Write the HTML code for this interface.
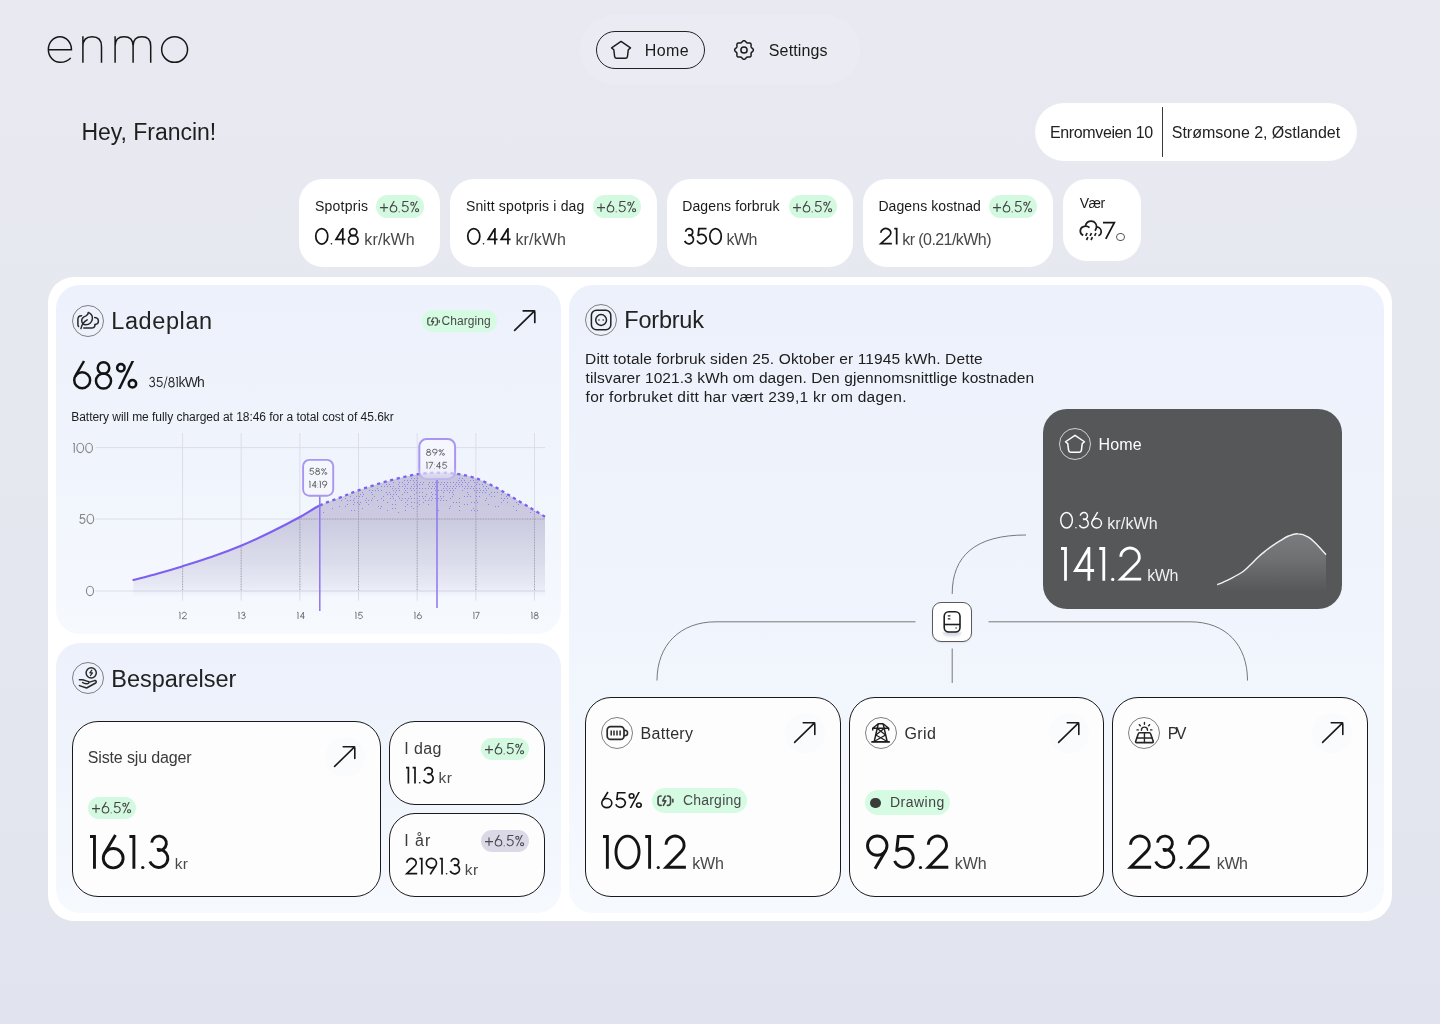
<!DOCTYPE html>
<html lang="en"><head><meta charset="utf-8"><title>enmo</title>
<style>
*{box-sizing:border-box;margin:0;padding:0}
html,body{width:1440px;height:1024px;overflow:hidden}
body{font-family:"Liberation Sans",sans-serif;background:linear-gradient(180deg,#e8e9f1 0%,#e6e8f0 40%,#e1e4ee 100%);color:#111}
#root{position:relative;width:1440px;height:1024px;overflow:hidden;will-change:transform}
.a{position:absolute}
.t{position:absolute;white-space:nowrap}
.td span{position:absolute;top:0}
.pill{position:absolute;border-radius:999px}
.badge{position:absolute;border-radius:999px;background:#d5f8e1}
.card{position:absolute;background:#fff;border-radius:24px}
.ocard{position:absolute;background:#fdfdfe;border:1px solid #1a1a1a;border-radius:26px}
.panel{position:absolute;border-radius:24px;background:linear-gradient(180deg,#ecf1fb 0%,#eef3fc 35%,#f6f9fe 100%)}
.ic{position:absolute;width:32px;height:32px;border-radius:50%;border:1px solid #808080}
svg{position:absolute;overflow:visible}
</style></head><body><div id="root">
<svg style="left:0;top:0" width="240" height="90" viewBox="0 0 240 90" fill="none" stroke="#161616" stroke-width="1.5" stroke-linecap="butt">
<path d="M48.35,49.7 H71.45 A11.55,12.8 0 0 0 59.9,36.75 A11.55,12.8 0 0 0 48.35,49.55 A11.55,12.8 0 0 0 59.9,62.35 C65,62.35 68.6,60.6 70.7,57.9"/>
<path d="M82.9,36.2 V62.8 M82.9,46.5 C82.9,39.5 86.8,36.8 92.2,36.8 C97.6,36.8 101.5,39.5 101.5,46.5 V62.8"/>
<path d="M115.1,36.2 V62.8 M115.1,46 C115.1,39.5 118.6,36.8 124.1,36.8 C129.6,36.8 133.1,39.5 133.1,46 V62.8 M133.1,46 C133.1,39.5 136.4,36.8 141.9,36.8 C147.4,36.8 150.7,39.5 150.7,46 V62.8"/>
<ellipse cx="174.6" cy="49.55" rx="12.95" ry="12.8"/>
</svg>
<div class="pill" style="left:580px;top:15px;width:280px;height:70px;background:#ebecf3"></div>
<div class="pill" style="left:596px;top:31px;width:109px;height:38px;border:1.3px solid #222"></div>
<svg style="left:0;top:0" width="900" height="90" viewBox="0 0 900 90" fill="none" stroke="#1b1b1b" stroke-width="1.5" stroke-linejoin="round" stroke-linecap="round">
<path d="M621.05,41.47 L630.50,47.90 L628.30,49.70 L627.50,56.35 Q627.25,58.30 625.35,58.30 L616.75,58.30 Q614.85,58.30 614.60,56.35 L613.80,49.70 L611.60,47.90 Z" fill="none" stroke="#1b1b1b" stroke-width="1.45" stroke-linejoin="round"/>
<circle cx="744" cy="50" r="3.1"/>
<path d="M744.00,40.65 L744.60,40.78 L745.17,41.13 L745.67,41.61 L746.11,42.13 L746.53,42.56 L746.97,42.84 L747.48,42.95 L748.08,42.94 L748.75,42.89 L749.45,42.90 L750.09,43.05 L750.61,43.39 L750.95,43.91 L751.10,44.55 L751.11,45.25 L751.06,45.92 L751.05,46.52 L751.16,47.03 L751.44,47.47 L751.87,47.89 L752.39,48.33 L752.87,48.83 L753.22,49.40 L753.35,50.00 L753.22,50.60 L752.87,51.17 L752.39,51.67 L751.87,52.11 L751.44,52.53 L751.16,52.97 L751.05,53.48 L751.06,54.07 L751.11,54.75 L751.10,55.45 L750.95,56.09 L750.61,56.61 L750.09,56.95 L749.45,57.10 L748.75,57.11 L748.08,57.06 L747.48,57.05 L746.97,57.16 L746.53,57.44 L746.11,57.87 L745.67,58.39 L745.17,58.87 L744.60,59.22 L744.00,59.35 L743.40,59.22 L742.83,58.87 L742.33,58.39 L741.89,57.87 L741.47,57.44 L741.03,57.16 L740.52,57.05 L739.92,57.06 L739.25,57.11 L738.55,57.10 L737.91,56.95 L737.39,56.61 L737.05,56.09 L736.90,55.45 L736.89,54.75 L736.94,54.08 L736.95,53.48 L736.84,52.97 L736.56,52.53 L736.13,52.11 L735.61,51.67 L735.13,51.17 L734.78,50.60 L734.65,50.00 L734.78,49.40 L735.13,48.83 L735.61,48.33 L736.13,47.89 L736.56,47.47 L736.84,47.03 L736.95,46.52 L736.94,45.92 L736.89,45.25 L736.90,44.55 L737.05,43.91 L737.39,43.39 L737.91,43.05 L738.55,42.90 L739.25,42.89 L739.92,42.94 L740.52,42.95 L741.03,42.84 L741.47,42.56 L741.89,42.13 L742.33,41.61 L742.83,41.13 L743.40,40.78 L744.00,40.65 Z"/>
</svg>
<div class="t" style="left:644.70px;top:43px;font-size:16px;line-height:16px;color:#1a1a1a;letter-spacing:0.433px;">Home</div>
<div class="t" style="left:768.80px;top:43px;font-size:16px;line-height:16px;color:#1a1a1a;letter-spacing:0.136px;">Settings</div>
<div class="t" style="left:81.45px;top:121px;font-size:23px;line-height:23px;color:#1e1e1e;letter-spacing:-0.021px;">Hey, Francin!</div>
<div class="pill" style="left:1035px;top:103px;width:322px;height:58px;background:#fff"></div>
<div class="a" style="left:1162px;top:107px;width:1px;height:50px;background:#3a3a3a"></div>
<div class="t" style="left:1050.00px;top:125px;font-size:16px;line-height:16px;color:#222;letter-spacing:-0.375px;">Enromveien 10</div>
<div class="t" style="left:1171.80px;top:125px;font-size:16px;line-height:16px;color:#222;letter-spacing:-0.031px;">Strømsone 2, Østlandet</div>
<div class="card" style="left:299px;top:179px;width:141px;height:88px"></div>
<div class="card" style="left:450px;top:179px;width:207px;height:88px"></div>
<div class="card" style="left:667px;top:179px;width:186px;height:88px"></div>
<div class="card" style="left:863px;top:179px;width:190px;height:88px"></div>
<div class="card" style="left:1063px;top:179px;width:78px;height:82px"></div>
<div class="t" style="left:314.90px;top:199px;font-size:14px;line-height:14px;color:#1a1a1a;letter-spacing:0.250px;">Spotpris</div>
<div class="t" style="left:465.90px;top:199px;font-size:14px;line-height:14px;color:#1a1a1a;letter-spacing:0.174px;">Snitt spotpris i dag</div>
<div class="t" style="left:682.20px;top:199px;font-size:14px;line-height:14px;color:#1a1a1a;letter-spacing:0.119px;">Dagens forbruk</div>
<div class="t" style="left:878.40px;top:199px;font-size:14px;line-height:14px;color:#1a1a1a;letter-spacing:0.100px;">Dagens kostnad</div>
<div class="t" style="left:1079.65px;top:196px;font-size:14px;line-height:14px;color:#1a1a1a;letter-spacing:-0.450px;">Vær</div>
<div class="badge" style="left:376px;top:195px;width:48px;height:23px;background:#d4f9e1"></div>
<svg style="left:380.10px;top:200.65px" width="41.1" height="13.3"><g transform="scale(0.1145,0.1130)"><g fill="none" stroke="#444" stroke-width="1.10" stroke-linejoin="miter" stroke-linecap="butt"><g transform="translate(0.00,0)"><path d="M0,58.5 H70 M35,22 V95" vector-effect="non-scaling-stroke"/></g><g transform="translate(84.80,0)"><circle cx="33" cy="68.6" r="28.6" vector-effect="non-scaling-stroke"/><path d="M8.2,54.3 L39.6,0" vector-effect="non-scaling-stroke"/></g><g transform="translate(185.00,0)"><path d="M63,4.4 H17.6 L12.8,49.5 M12.6,48.6 A28,28 0 1 1 7,76.5" vector-effect="non-scaling-stroke"/></g><g transform="translate(263.50,0)"><circle cx="18.6" cy="24.2" r="13.4" vector-effect="non-scaling-stroke"/><circle cx="60.2" cy="81.4" r="13.4" vector-effect="non-scaling-stroke"/></g></g><g fill="#444" stroke="none"><g transform="translate(162.80,0)"><circle cx="4.6" cy="96.2" r="4.7"/></g><g transform="translate(263.50,0)"><path d="M56.6,0 H66.4 L17.4,100 H7.6 Z"/></g></g></g></svg>
<div class="badge" style="left:593px;top:195px;width:48px;height:23px;background:#d4f9e1"></div>
<svg style="left:597.10px;top:200.65px" width="41.1" height="13.3"><g transform="scale(0.1145,0.1130)"><g fill="none" stroke="#444" stroke-width="1.10" stroke-linejoin="miter" stroke-linecap="butt"><g transform="translate(0.00,0)"><path d="M0,58.5 H70 M35,22 V95" vector-effect="non-scaling-stroke"/></g><g transform="translate(84.80,0)"><circle cx="33" cy="68.6" r="28.6" vector-effect="non-scaling-stroke"/><path d="M8.2,54.3 L39.6,0" vector-effect="non-scaling-stroke"/></g><g transform="translate(185.00,0)"><path d="M63,4.4 H17.6 L12.8,49.5 M12.6,48.6 A28,28 0 1 1 7,76.5" vector-effect="non-scaling-stroke"/></g><g transform="translate(263.50,0)"><circle cx="18.6" cy="24.2" r="13.4" vector-effect="non-scaling-stroke"/><circle cx="60.2" cy="81.4" r="13.4" vector-effect="non-scaling-stroke"/></g></g><g fill="#444" stroke="none"><g transform="translate(162.80,0)"><circle cx="4.6" cy="96.2" r="4.7"/></g><g transform="translate(263.50,0)"><path d="M56.6,0 H66.4 L17.4,100 H7.6 Z"/></g></g></g></svg>
<div class="badge" style="left:789px;top:195px;width:48px;height:23px;background:#d4f9e1"></div>
<svg style="left:793.10px;top:200.65px" width="41.1" height="13.3"><g transform="scale(0.1145,0.1130)"><g fill="none" stroke="#444" stroke-width="1.10" stroke-linejoin="miter" stroke-linecap="butt"><g transform="translate(0.00,0)"><path d="M0,58.5 H70 M35,22 V95" vector-effect="non-scaling-stroke"/></g><g transform="translate(84.80,0)"><circle cx="33" cy="68.6" r="28.6" vector-effect="non-scaling-stroke"/><path d="M8.2,54.3 L39.6,0" vector-effect="non-scaling-stroke"/></g><g transform="translate(185.00,0)"><path d="M63,4.4 H17.6 L12.8,49.5 M12.6,48.6 A28,28 0 1 1 7,76.5" vector-effect="non-scaling-stroke"/></g><g transform="translate(263.50,0)"><circle cx="18.6" cy="24.2" r="13.4" vector-effect="non-scaling-stroke"/><circle cx="60.2" cy="81.4" r="13.4" vector-effect="non-scaling-stroke"/></g></g><g fill="#444" stroke="none"><g transform="translate(162.80,0)"><circle cx="4.6" cy="96.2" r="4.7"/></g><g transform="translate(263.50,0)"><path d="M56.6,0 H66.4 L17.4,100 H7.6 Z"/></g></g></g></svg>
<div class="badge" style="left:989px;top:195px;width:48px;height:23px;background:#d4f9e1"></div>
<svg style="left:993.10px;top:200.65px" width="41.1" height="13.3"><g transform="scale(0.1145,0.1130)"><g fill="none" stroke="#444" stroke-width="1.10" stroke-linejoin="miter" stroke-linecap="butt"><g transform="translate(0.00,0)"><path d="M0,58.5 H70 M35,22 V95" vector-effect="non-scaling-stroke"/></g><g transform="translate(84.80,0)"><circle cx="33" cy="68.6" r="28.6" vector-effect="non-scaling-stroke"/><path d="M8.2,54.3 L39.6,0" vector-effect="non-scaling-stroke"/></g><g transform="translate(185.00,0)"><path d="M63,4.4 H17.6 L12.8,49.5 M12.6,48.6 A28,28 0 1 1 7,76.5" vector-effect="non-scaling-stroke"/></g><g transform="translate(263.50,0)"><circle cx="18.6" cy="24.2" r="13.4" vector-effect="non-scaling-stroke"/><circle cx="60.2" cy="81.4" r="13.4" vector-effect="non-scaling-stroke"/></g></g><g fill="#444" stroke="none"><g transform="translate(162.80,0)"><circle cx="4.6" cy="96.2" r="4.7"/></g><g transform="translate(263.50,0)"><path d="M56.6,0 H66.4 L17.4,100 H7.6 Z"/></g></g></g></svg>
<svg style="left:315.40px;top:228.30px" width="45.8" height="18.4"><g transform="scale(0.1756,0.1640)"><g fill="none" stroke="#151515" stroke-width="1.75" stroke-linejoin="miter" stroke-linecap="butt"><g transform="translate(0.00,0)"><ellipse cx="38.5" cy="50.5" rx="34.1" ry="47.3" vector-effect="non-scaling-stroke"/></g><g transform="translate(111.20,0)"><path d="M47,100 V0 M47,3 L8.5,69.7 H62" vector-effect="non-scaling-stroke"/></g><g transform="translate(186.20,0)"><circle cx="31.6" cy="25" r="20.8" vector-effect="non-scaling-stroke"/><circle cx="31.6" cy="71.4" r="27.1" vector-effect="non-scaling-stroke"/></g></g><g fill="#151515" stroke="none"><g transform="translate(89.00,0)"><circle cx="4.6" cy="96.2" r="4.7"/></g></g></g></svg>
<div class="t" style="left:364.25px;top:232px;font-size:16px;line-height:16px;color:#484848;letter-spacing:0.150px;">kr/kWh</div>
<svg style="left:466.60px;top:228.30px" width="45.6" height="18.4"><g transform="scale(0.1764,0.1640)"><g fill="none" stroke="#151515" stroke-width="1.75" stroke-linejoin="miter" stroke-linecap="butt"><g transform="translate(0.00,0)"><ellipse cx="38.5" cy="50.5" rx="34.1" ry="47.3" vector-effect="non-scaling-stroke"/></g><g transform="translate(111.20,0)"><path d="M47,100 V0 M47,3 L8.5,69.7 H62" vector-effect="non-scaling-stroke"/></g><g transform="translate(185.20,0)"><path d="M47,100 V0 M47,3 L8.5,69.7 H62" vector-effect="non-scaling-stroke"/></g></g><g fill="#151515" stroke="none"><g transform="translate(89.00,0)"><circle cx="4.6" cy="96.2" r="4.7"/></g></g></g></svg>
<div class="t" style="left:515.45px;top:232px;font-size:16px;line-height:16px;color:#484848;letter-spacing:0.150px;">kr/kWh</div>
<svg style="left:683.50px;top:228.30px" width="40.0" height="18.4"><g transform="scale(0.1677,0.1640)"><g fill="none" stroke="#151515" stroke-width="1.75" stroke-linejoin="miter" stroke-linecap="butt"><g transform="translate(0.00,0)"><path d="M9.7,22.65 A21.2,21.2 0 1 1 27.1,45.4 M24.5,43 A26.8,26.8 0 1 1 4.4,78.6" vector-effect="non-scaling-stroke"/></g><g transform="translate(71.40,0)"><path d="M63,4.4 H17.6 L12.8,49.5 M12.6,48.6 A28,28 0 1 1 7,76.5" vector-effect="non-scaling-stroke"/></g><g transform="translate(149.60,0)"><ellipse cx="38.5" cy="50.5" rx="34.1" ry="47.3" vector-effect="non-scaling-stroke"/></g></g></g></svg>
<div class="t" style="left:726.45px;top:232px;font-size:16px;line-height:16px;color:#484848;letter-spacing:-0.475px;">kWh</div>
<svg style="left:880.00px;top:228.30px" width="19.5" height="18.4"><g transform="scale(0.1880,0.1640)"><g fill="none" stroke="#151515" stroke-width="1.75" stroke-linejoin="miter" stroke-linecap="butt"><g transform="translate(0.00,0)"><path d="M4.4,29 A26.6,26.6 0 1 1 49.9,48.4 L4.4,95.6 H63" vector-effect="non-scaling-stroke"/></g><g transform="translate(75.80,0)"><path d="M0,4.4 H12.9 V100" vector-effect="non-scaling-stroke"/></g></g></g></svg>
<div class="t" style="left:902.25px;top:232px;font-size:16px;line-height:16px;color:#484848;letter-spacing:-0.567px;">kr (0.21/kWh)</div>
<svg style="left:1074px;top:214px" width="40" height="32" viewBox="0 0 40 32" fill="none" stroke="#1f1f1f" stroke-width="1.75" stroke-linecap="butt" stroke-linejoin="round">
<path d="M9.2,21.4 C5.4,19.6 5.2,14.2 9.4,12.6 C11.6,11.7 14,12.3 15.5,13.7"/>
<path d="M11.4,11.9 C12.2,8.6 14.8,7.1 17.3,7.1 C20.8,7.1 23.2,10.4 22.4,13.8 C22.1,15 21.6,15.9 21,16.8"/>
<path d="M22.9,12.9 C25.6,13.3 27.5,15.6 27.2,18.4 C27,20 26,21.2 24.4,21.8"/>
<path d="M13.1,19 L11.7,21.9 M17.5,19 L16.1,21.9 M22,19 L20.6,21.9 M13.9,23.2 L12.5,26 M18.4,23.2 L17,26" stroke-width="1.7"/>
</svg>
<svg style="left:1103.20px;top:222.10px" width="14.2" height="18.8"><g transform="scale(0.2140,0.1680)"><g fill="none" stroke="#151515" stroke-width="1.75" stroke-linejoin="miter" stroke-linecap="butt"><g transform="translate(0.00,0)"><path d="M0,4.4 H53 L13,100" vector-effect="non-scaling-stroke"/></g></g></g></svg>
<div class="a" style="left:1116px;top:232.5px;width:8.9px;height:8.9px;border-radius:50%;border:1.25px solid #555"></div>
<div class="a" style="left:48px;top:277px;width:1344px;height:644px;background:#fff;border-radius:26px"></div>
<div class="panel" style="left:56px;top:285px;width:505px;height:349px"></div>
<div class="ic" style="left:72px;top:304.7px"></div>
<svg style="left:68px;top:301px" width="40" height="40" viewBox="0 0 40 40" fill="none" stroke="#2a2a2a" stroke-width="1.5" stroke-linecap="round" stroke-linejoin="round">
<path d="M13.6,14.7 Q9.9,14.7 9.9,18.2 V23.2 Q9.9,24.8 10.6,25.5"/>
<path d="M20.3,11.4 C22.6,12.4 24.6,14.8 24.4,17.6 C24.2,21 21.4,23.7 17.8,23.8 C15.2,23.9 13.6,21.8 13.7,19.4 C13.8,16.8 16.2,15.6 18,14.9 C19.4,14.3 20.2,13.2 20.3,11.4 Z"/>
<path d="M19.2,18.8 C16.4,20.2 13.8,23.4 12.9,27.6"/>
<path d="M15.8,27 H23.4 Q27,27 27,23.4"/>
<path d="M26.7,16.5 C31.6,16.9 31.6,23.2 27,23.5"/>
</svg>
<div class="t" style="left:111.30px;top:310px;font-size:23.5px;line-height:23.5px;color:#222;letter-spacing:0.586px;">Ladeplan</div>
<div class="badge" style="left:422px;top:309.8px;width:75px;height:22.4px;background:#d6fbe3"></div>
<svg style="left:427px;top:316.6px" width="13.0" height="9.0" viewBox="0 0 13 9" fill="none" stroke="#4c4c4c" stroke-width="1.25" stroke-linecap="round" stroke-linejoin="round"><path d="M3.2,0.8 H2.6 Q0.8,0.8 0.8,2.6 V6.2 Q0.8,8 2.6,8 H3.2 M8,0.8 H8.6 Q10.4,0.8 10.4,2.6 V6.2 Q10.4,8 8.6,8 H8 M12.2,3.4 V5.4 M6.3,0.9 L4.4,4.5 H6.8 L4.9,8"/></svg>
<div class="t" style="left:441.60px;top:315px;font-size:12px;line-height:12px;color:#4a4a4a;letter-spacing:0.064px;">Charging</div>
<svg style="left:514px;top:310.2px" width="22" height="22" viewBox="0 0 22 22" fill="none" stroke="#1a1a1a" stroke-width="1.7" stroke-linecap="round" stroke-linejoin="round"><path d="M0.6,20.4 L20.6,0.9 M9.2,0.8 L19.6,0.8 Q20.8,0.8 20.8,2 L20.8,12.4"/></svg>
<svg style="left:72.90px;top:360.60px" width="66.4" height="30.0"><g transform="scale(0.2782,0.2800)"><g fill="none" stroke="#141414" stroke-width="2.50" stroke-linejoin="miter" stroke-linecap="butt"><g transform="translate(0.00,0)"><circle cx="33" cy="68.6" r="28.6" vector-effect="non-scaling-stroke"/><path d="M8.2,54.3 L39.6,0" vector-effect="non-scaling-stroke"/></g><g transform="translate(78.00,0)"><circle cx="31.6" cy="25" r="20.8" vector-effect="non-scaling-stroke"/><circle cx="31.6" cy="71.4" r="27.1" vector-effect="non-scaling-stroke"/></g><g transform="translate(153.50,0)"><circle cx="18.6" cy="24.2" r="13.4" vector-effect="non-scaling-stroke"/><circle cx="60.2" cy="81.4" r="13.4" vector-effect="non-scaling-stroke"/></g></g><g fill="#141414" stroke="none"><g transform="translate(153.50,0)"><path d="M56.6,0 H66.4 L17.4,100 H7.6 Z"/></g></g></g></svg>
<svg style="left:148.90px;top:377.20px" width="30.7" height="12.0"><g transform="scale(0.0997,0.1000)"><g fill="none" stroke="#2a2a2a" stroke-width="1.05" stroke-linejoin="miter" stroke-linecap="butt"><g transform="translate(0.00,0)"><path d="M9.7,22.65 A21.2,21.2 0 1 1 27.1,45.4 M24.5,43 A26.8,26.8 0 1 1 4.4,78.6" vector-effect="non-scaling-stroke"/></g><g transform="translate(71.40,0)"><path d="M63,4.4 H17.6 L12.8,49.5 M12.6,48.6 A28,28 0 1 1 7,76.5" vector-effect="non-scaling-stroke"/></g><g transform="translate(193.60,0)"><circle cx="31.6" cy="25" r="20.8" vector-effect="non-scaling-stroke"/><circle cx="31.6" cy="71.4" r="27.1" vector-effect="non-scaling-stroke"/></g><g transform="translate(270.60,0)"><path d="M0,4.4 H12.9 V100" vector-effect="non-scaling-stroke"/></g></g><g fill="#2a2a2a" stroke="none"><g transform="translate(145.60,0)"><path d="M31,-4 H40 L9,112 H0 Z"/></g></g></g></svg>
<div class="t" style="left:178.50px;top:375px;font-size:14px;line-height:14px;color:#2a2a2a;letter-spacing:-0.800px;">kWh</div>
<div class="t" style="left:71.25px;top:411px;font-size:12px;line-height:12px;color:#1c1c1c;letter-spacing:-0.036px;">Battery will me fully charged at 18:46 for a total cost of 45.6kr</div>
<svg style="left:0;top:0" width="600" height="640" viewBox="0 0 600 640" fill="none"><defs>
<linearGradient id="ga" x1="0" y1="470" x2="0" y2="598" gradientUnits="userSpaceOnUse"><stop offset="0" stop-color="#655a98" stop-opacity="0.31"/><stop offset="0.4" stop-color="#6e639c" stop-opacity="0.29"/><stop offset="0.7" stop-color="#8279a8" stop-opacity="0.22"/><stop offset="0.9" stop-color="#9088b4" stop-opacity="0.13"/><stop offset="1" stop-color="#9a90c0" stop-opacity="0"/></linearGradient>
<pattern id="dots" x="0" y="0" width="6.6" height="5.6" patternUnits="userSpaceOnUse"><circle cx="1.2" cy="1.2" r="0.62" fill="#8d72f7"/><circle cx="4.5" cy="4" r="0.62" fill="#8d72f7"/></pattern>
<filter id="bl" x="-10%" y="-50%" width="120%" height="200%"><feGaussianBlur stdDeviation="7"/></filter>
<mask id="mk" maskUnits="userSpaceOnUse" x="0" y="0" width="600" height="640"><path d="M319.7,505.5 C326.4,502.3 333.6,500.1 340.0,497.6 C346.4,495.1 350.4,493.2 358.4,490.4 C366.4,487.6 378.1,483.7 388.0,481.0 C397.9,478.3 409.3,475.6 417.5,474.2 C425.7,472.8 430.6,472.7 437.0,472.6 C443.4,472.5 449.5,472.7 456.0,473.6 C462.5,474.6 469.5,476.1 476.0,478.3 C482.5,480.5 489.3,484.1 495.0,487.0 C500.7,489.9 504.8,492.8 510.3,496.0 C515.8,499.2 522.2,503.1 528.0,506.5 C533.8,509.9 542.2,515.0 545.0,516.7" stroke="#fff" stroke-width="34" fill="none" filter="url(#bl)"/></mask>
<clipPath id="ca"><path d="M133.4,580.0 C137.5,578.9 149.9,575.8 158.0,573.5 C166.1,571.2 173.0,569.2 182.0,566.4 C191.0,563.6 202.2,560.2 212.0,556.8 C221.8,553.4 231.2,549.9 241.0,545.8 C250.8,541.7 261.2,536.8 271.0,532.0 C280.8,527.2 291.9,521.4 300.0,517.0 C308.1,512.6 313.0,508.7 319.7,505.5 C326.4,502.3 333.6,500.1 340.0,497.6 C346.4,495.1 350.4,493.2 358.4,490.4 C366.4,487.6 378.1,483.7 388.0,481.0 C397.9,478.3 409.3,475.6 417.5,474.2 C425.7,472.8 430.6,472.7 437.0,472.6 C443.4,472.5 449.5,472.7 456.0,473.6 C462.5,474.6 469.5,476.1 476.0,478.3 C482.5,480.5 489.3,484.1 495.0,487.0 C500.7,489.9 504.8,492.8 510.3,496.0 C515.8,499.2 522.2,503.1 528.0,506.5 C533.8,509.9 542.2,515.0 545.0,516.7 L545,598 L133.4,598 Z"/></clipPath>
<linearGradient id="gb" x1="0" y1="0" x2="0" y2="1"><stop offset="0" stop-color="#f6f7fe" stop-opacity="1"/><stop offset="0.68" stop-color="#f4f4fd" stop-opacity="1"/><stop offset="1" stop-color="#e9e6f6" stop-opacity="0.35"/></linearGradient>
<linearGradient id="gs" x1="0" y1="439" x2="0" y2="480" gradientUnits="userSpaceOnUse"><stop offset="0" stop-color="#a896f0"/><stop offset="0.7" stop-color="#a896f0"/><stop offset="1" stop-color="#b8aaf0" stop-opacity="0.55"/></linearGradient>
</defs><path d="M95.5,447.6 H545 M95.5,519 H545 M95.5,591 H545 M182.6,433 V600.6 M241.2,433 V600.6 M299.9,433 V600.6 M358.5,433 V600.6 M417.2,433 V600.6 M475.9,433 V600.6 M534.5,433 V600.6" stroke="#dcdde8" stroke-width="1"/><path d="M133.4,580.0 C137.5,578.9 149.9,575.8 158.0,573.5 C166.1,571.2 173.0,569.2 182.0,566.4 C191.0,563.6 202.2,560.2 212.0,556.8 C221.8,553.4 231.2,549.9 241.0,545.8 C250.8,541.7 261.2,536.8 271.0,532.0 C280.8,527.2 291.9,521.4 300.0,517.0 C308.1,512.6 313.0,508.7 319.7,505.5 C326.4,502.3 333.6,500.1 340.0,497.6 C346.4,495.1 350.4,493.2 358.4,490.4 C366.4,487.6 378.1,483.7 388.0,481.0 C397.9,478.3 409.3,475.6 417.5,474.2 C425.7,472.8 430.6,472.7 437.0,472.6 C443.4,472.5 449.5,472.7 456.0,473.6 C462.5,474.6 469.5,476.1 476.0,478.3 C482.5,480.5 489.3,484.1 495.0,487.0 C500.7,489.9 504.8,492.8 510.3,496.0 C515.8,499.2 522.2,503.1 528.0,506.5 C533.8,509.9 542.2,515.0 545.0,516.7 L545,598 L133.4,598 Z" fill="url(#ga)"/><g clip-path="url(#ca)"><path d="M95.5,519 H545 M182.6,433 V590 M241.2,433 V590 M299.9,433 V590 M358.5,433 V590 M417.2,433 V590 M475.9,433 V590 M534.5,433 V590" stroke="#a09cb0" stroke-width="1" stroke-dasharray="1 1.6"/><path d="M133.4,591 H545" stroke="#dedcf0" stroke-width="1.2"/></g><path d="M411,478.5h1M414,478.5h1M417,478.5h1M459,478.5h1M462,478.5h1M404,480.5h1M407,480.5h1M410,480.5h1M413,480.5h1M416,480.5h1M458,480.5h1M461,480.5h1M464,480.5h1M470,480.5h1M473,480.5h1M393,482.5h1M399,482.5h1M402,482.5h1M408,482.5h1M414,482.5h1M417,482.5h1M420,482.5h1M423,482.5h1M429,482.5h1M432,482.5h1M435,482.5h1M438,482.5h1M441,482.5h1M444,482.5h1M447,482.5h1M450,482.5h1M453,482.5h1M456,482.5h1M459,482.5h1M462,482.5h1M465,482.5h1M468,482.5h1M474,482.5h1M477,482.5h1M386,484.5h1M389,484.5h1M398,484.5h1M404,484.5h1M407,484.5h1M413,484.5h1M416,484.5h1M419,484.5h1M422,484.5h1M428,484.5h1M434,484.5h1M440,484.5h1M443,484.5h1M446,484.5h1M455,484.5h1M458,484.5h1M461,484.5h1M467,484.5h1M476,484.5h1M479,484.5h1M482,484.5h1M381,486.5h1M384,486.5h1M387,486.5h1M390,486.5h1M393,486.5h1M399,486.5h1M402,486.5h1M405,486.5h1M411,486.5h1M414,486.5h1M417,486.5h1M429,486.5h1M432,486.5h1M435,486.5h1M444,486.5h1M447,486.5h1M450,486.5h1M453,486.5h1M456,486.5h1M459,486.5h1M462,486.5h1M465,486.5h1M468,486.5h1M471,486.5h1M474,486.5h1M483,486.5h1M486,486.5h1M377,488.5h1M392,488.5h1M395,488.5h1M398,488.5h1M404,488.5h1M407,488.5h1M410,488.5h1M413,488.5h1M416,488.5h1M419,488.5h1M422,488.5h1M425,488.5h1M428,488.5h1M431,488.5h1M434,488.5h1M443,488.5h1M446,488.5h1M449,488.5h1M452,488.5h1M455,488.5h1M464,488.5h1M467,488.5h1M470,488.5h1M473,488.5h1M476,488.5h1M479,488.5h1M485,488.5h1M488,488.5h1M369,490.5h1M372,490.5h1M375,490.5h1M378,490.5h1M381,490.5h1M393,490.5h1M396,490.5h1M399,490.5h1M405,490.5h1M411,490.5h1M414,490.5h1M435,490.5h1M438,490.5h1M441,490.5h1M444,490.5h1M447,490.5h1M450,490.5h1M453,490.5h1M462,490.5h1M474,490.5h1M477,490.5h1M480,490.5h1M483,490.5h1M486,490.5h1M362,492.5h1M371,492.5h1M386,492.5h1M389,492.5h1M395,492.5h1M404,492.5h1M407,492.5h1M416,492.5h1M419,492.5h1M422,492.5h1M431,492.5h1M443,492.5h1M449,492.5h1M452,492.5h1M467,492.5h1M476,492.5h1M479,492.5h1M482,492.5h1M485,492.5h1M491,492.5h1M494,492.5h1M497,492.5h1M360,494.5h1M363,494.5h1M372,494.5h1M387,494.5h1M390,494.5h1M393,494.5h1M396,494.5h1M402,494.5h1M414,494.5h1M426,494.5h1M432,494.5h1M435,494.5h1M453,494.5h1M468,494.5h1M489,494.5h1M501,494.5h1M350,496.5h1M356,496.5h1M359,496.5h1M362,496.5h1M374,496.5h1M383,496.5h1M392,496.5h1M398,496.5h1M410,496.5h1M419,496.5h1M422,496.5h1M425,496.5h1M431,496.5h1M440,496.5h1M443,496.5h1M452,496.5h1M464,496.5h1M467,496.5h1M470,496.5h1M476,496.5h1M479,496.5h1M491,496.5h1M494,496.5h1M506,496.5h1M345,498.5h1M354,498.5h1M366,498.5h1M372,498.5h1M381,498.5h1M390,498.5h1M393,498.5h1M399,498.5h1M402,498.5h1M405,498.5h1M408,498.5h1M411,498.5h1M414,498.5h1M417,498.5h1M423,498.5h1M429,498.5h1M432,498.5h1M435,498.5h1M438,498.5h1M441,498.5h1M450,498.5h1M459,498.5h1M486,498.5h1M501,498.5h1M504,498.5h1M507,498.5h1M341,500.5h1M347,500.5h1M350,500.5h1M353,500.5h1M365,500.5h1M368,500.5h1M371,500.5h1M377,500.5h1M383,500.5h1M395,500.5h1M401,500.5h1M407,500.5h1M419,500.5h1M425,500.5h1M428,500.5h1M431,500.5h1M437,500.5h1M440,500.5h1M443,500.5h1M446,500.5h1M476,500.5h1M485,500.5h1M503,500.5h1M354,502.5h1M357,502.5h1M360,502.5h1M366,502.5h1M387,502.5h1M405,502.5h1M411,502.5h1M414,502.5h1M417,502.5h1M423,502.5h1M453,502.5h1M456,502.5h1M459,502.5h1M471,502.5h1M474,502.5h1M477,502.5h1M501,502.5h1M507,502.5h1M516,502.5h1M347,504.5h1M353,504.5h1M359,504.5h1M368,504.5h1M392,504.5h1M395,504.5h1M407,504.5h1M419,504.5h1M428,504.5h1M464,504.5h1M467,504.5h1M488,504.5h1M518,504.5h1M339,506.5h1M345,506.5h1M378,506.5h1M381,506.5h1M405,506.5h1M411,506.5h1M417,506.5h1M450,506.5h1M459,506.5h1M495,506.5h1M498,506.5h1M513,506.5h1M332,508.5h1M362,508.5h1M380,508.5h1M392,508.5h1M395,508.5h1M413,508.5h1M449,508.5h1M473,508.5h1M351,510.5h1M354,510.5h1M387,510.5h1M405,510.5h1M438,510.5h1M459,510.5h1M471,510.5h1M474,510.5h1M477,510.5h1M516,510.5h1M323,512.5h1M398,512.5h1M530,512.5h1" stroke="#957ff6" stroke-width="1" stroke-linecap="butt"/><path d="M133.4,580.0 C137.5,578.9 149.9,575.8 158.0,573.5 C166.1,571.2 173.0,569.2 182.0,566.4 C191.0,563.6 202.2,560.2 212.0,556.8 C221.8,553.4 231.2,549.9 241.0,545.8 C250.8,541.7 261.2,536.8 271.0,532.0 C280.8,527.2 291.9,521.4 300.0,517.0 C308.1,512.6 313.0,508.7 319.7,505.5" stroke="#7d5ff2" stroke-width="2.1" stroke-linecap="round"/><path d="M319.7,505.5 C326.4,502.3 333.6,500.1 340.0,497.6 C346.4,495.1 350.4,493.2 358.4,490.4 C366.4,487.6 378.1,483.7 388.0,481.0 C397.9,478.3 409.3,475.6 417.5,474.2 C425.7,472.8 430.6,472.7 437.0,472.6 C443.4,472.5 449.5,472.7 456.0,473.6 C462.5,474.6 469.5,476.1 476.0,478.3 C482.5,480.5 489.3,484.1 495.0,487.0 C500.7,489.9 504.8,492.8 510.3,496.0 C515.8,499.2 522.2,503.1 528.0,506.5 C533.8,509.9 542.2,515.0 545.0,516.7" stroke="#7d5ff2" stroke-width="2.3" stroke-dasharray="3.2 3.6" stroke-linecap="butt"/><path d="M319.8,496 V611" stroke="#8e74f3" stroke-width="1.5"/><path d="M437,480 V608" stroke="#8e74f3" stroke-width="1.5"/><rect x="303.1" y="459.9" width="30.1" height="35.8" rx="6.2" fill="#f5f7fe" stroke="#a896f0" stroke-width="1.9"/><rect x="419.3" y="439.1" width="35.8" height="39.9" rx="7.2" fill="url(#gb)" stroke="url(#gs)" stroke-width="2"/></svg>
<svg style="left:308.70px;top:468.00px" width="20.2" height="8.7"><g transform="scale(0.0785,0.0670)"><g fill="none" stroke="#555" stroke-width="0.85" stroke-linejoin="miter" stroke-linecap="butt"><g transform="translate(0.00,0)"><path d="M63,4.4 H17.6 L12.8,49.5 M12.6,48.6 A28,28 0 1 1 7,76.5" vector-effect="non-scaling-stroke"/></g><g transform="translate(78.20,0)"><circle cx="31.6" cy="25" r="20.8" vector-effect="non-scaling-stroke"/><circle cx="31.6" cy="71.4" r="27.1" vector-effect="non-scaling-stroke"/></g><g transform="translate(153.70,0)"><circle cx="18.6" cy="24.2" r="13.4" vector-effect="non-scaling-stroke"/><circle cx="60.2" cy="81.4" r="13.4" vector-effect="non-scaling-stroke"/></g></g><g fill="#555" stroke="none"><g transform="translate(153.70,0)"><path d="M56.6,0 H66.4 L17.4,100 H7.6 Z"/></g></g></g></svg>
<svg style="left:308.70px;top:481.10px" width="20.2" height="8.9"><g transform="scale(0.0782,0.0690)"><g fill="none" stroke="#555" stroke-width="0.85" stroke-linejoin="miter" stroke-linecap="butt"><g transform="translate(0.00,0)"><path d="M0,4.4 H12.9 V100" vector-effect="non-scaling-stroke"/></g><g transform="translate(32.90,0)"><path d="M47,100 V0 M47,3 L8.5,69.7 H62" vector-effect="non-scaling-stroke"/></g><g transform="translate(132.90,0)"><path d="M0,4.4 H12.9 V100" vector-effect="non-scaling-stroke"/></g><g transform="translate(166.80,0)"><circle cx="33" cy="31.4" r="28.6" vector-effect="non-scaling-stroke"/><path d="M57.8,45.7 L26.4,100" vector-effect="non-scaling-stroke"/></g></g><g fill="#555" stroke="none"><g transform="translate(107.90,0)"><circle cx="4.6" cy="96.2" r="4.7"/><circle cx="4.6" cy="42" r="4.7"/></g></g></g></svg>
<svg style="left:426.10px;top:449.10px" width="20.9" height="8.6"><g transform="scale(0.0816,0.0660)"><g fill="none" stroke="#555" stroke-width="0.85" stroke-linejoin="miter" stroke-linecap="butt"><g transform="translate(0.00,0)"><circle cx="31.6" cy="25" r="20.8" vector-effect="non-scaling-stroke"/><circle cx="31.6" cy="71.4" r="27.1" vector-effect="non-scaling-stroke"/></g><g transform="translate(75.20,0)"><circle cx="33" cy="31.4" r="28.6" vector-effect="non-scaling-stroke"/><path d="M57.8,45.7 L26.4,100" vector-effect="non-scaling-stroke"/></g><g transform="translate(153.50,0)"><circle cx="18.6" cy="24.2" r="13.4" vector-effect="non-scaling-stroke"/><circle cx="60.2" cy="81.4" r="13.4" vector-effect="non-scaling-stroke"/></g></g><g fill="#555" stroke="none"><g transform="translate(153.50,0)"><path d="M56.6,0 H66.4 L17.4,100 H7.6 Z"/></g></g></g></svg>
<svg style="left:426.10px;top:462.20px" width="23.1" height="8.7"><g transform="scale(0.0808,0.0670)"><g fill="none" stroke="#555" stroke-width="0.85" stroke-linejoin="miter" stroke-linecap="butt"><g transform="translate(0.00,0)"><path d="M0,4.4 H12.9 V100" vector-effect="non-scaling-stroke"/></g><g transform="translate(31.90,0)"><path d="M0,4.4 H53 L13,100" vector-effect="non-scaling-stroke"/></g><g transform="translate(121.10,0)"><path d="M47,100 V0 M47,3 L8.5,69.7 H62" vector-effect="non-scaling-stroke"/></g><g transform="translate(195.10,0)"><path d="M63,4.4 H17.6 L12.8,49.5 M12.6,48.6 A28,28 0 1 1 7,76.5" vector-effect="non-scaling-stroke"/></g></g><g fill="#555" stroke="none"><g transform="translate(98.90,0)"><circle cx="4.6" cy="96.2" r="4.7"/><circle cx="4.6" cy="42" r="4.7"/></g></g></g></svg>
<svg style="left:72.70px;top:443.10px" width="21.9" height="11.8"><g transform="scale(0.0995,0.0980)"><g fill="none" stroke="#868686" stroke-width="1.10" stroke-linejoin="miter" stroke-linecap="butt"><g transform="translate(0.00,0)"><path d="M0,4.4 H12.9 V100" vector-effect="non-scaling-stroke"/></g><g transform="translate(33.90,0)"><ellipse cx="38.5" cy="50.5" rx="34.1" ry="47.3" vector-effect="non-scaling-stroke"/></g><g transform="translate(122.90,0)"><ellipse cx="38.5" cy="50.5" rx="34.1" ry="47.3" vector-effect="non-scaling-stroke"/></g></g></g></svg>
<svg style="left:79.30px;top:514.30px" width="17.1" height="11.8"><g transform="scale(0.0973,0.0980)"><g fill="none" stroke="#868686" stroke-width="1.10" stroke-linejoin="miter" stroke-linecap="butt"><g transform="translate(0.00,0)"><path d="M63,4.4 H17.6 L12.8,49.5 M12.6,48.6 A28,28 0 1 1 7,76.5" vector-effect="non-scaling-stroke"/></g><g transform="translate(78.20,0)"><ellipse cx="38.5" cy="50.5" rx="34.1" ry="47.3" vector-effect="non-scaling-stroke"/></g></g></g></svg>
<svg style="left:86.20px;top:586.20px" width="10.0" height="11.8"><g transform="scale(0.1039,0.0980)"><g fill="none" stroke="#868686" stroke-width="1.10" stroke-linejoin="miter" stroke-linecap="butt"><g transform="translate(0.00,0)"><ellipse cx="38.5" cy="50.5" rx="34.1" ry="47.3" vector-effect="non-scaling-stroke"/></g></g></g></svg>
<svg style="left:179.40px;top:611.60px" width="9.8" height="9.0"><g transform="scale(0.0805,0.0700)"><g fill="none" stroke="#666" stroke-width="0.85" stroke-linejoin="miter" stroke-linecap="butt"><g transform="translate(0.00,0)"><path d="M0,4.4 H12.9 V100" vector-effect="non-scaling-stroke"/></g><g transform="translate(33.90,0)"><path d="M4.4,29 A26.6,26.6 0 1 1 49.9,48.4 L4.4,95.6 H63" vector-effect="non-scaling-stroke"/></g></g></g></svg>
<svg style="left:238.15px;top:611.60px" width="9.6" height="9.0"><g transform="scale(0.0828,0.0700)"><g fill="none" stroke="#666" stroke-width="0.85" stroke-linejoin="miter" stroke-linecap="butt"><g transform="translate(0.00,0)"><path d="M0,4.4 H12.9 V100" vector-effect="non-scaling-stroke"/></g><g transform="translate(31.40,0)"><path d="M9.7,22.65 A21.2,21.2 0 1 1 27.1,45.4 M24.5,43 A26.8,26.8 0 1 1 4.4,78.6" vector-effect="non-scaling-stroke"/></g></g></g></svg>
<svg style="left:296.80px;top:611.60px" width="9.6" height="9.0"><g transform="scale(0.0801,0.0700)"><g fill="none" stroke="#666" stroke-width="0.85" stroke-linejoin="miter" stroke-linecap="butt"><g transform="translate(0.00,0)"><path d="M0,4.4 H12.9 V100" vector-effect="non-scaling-stroke"/></g><g transform="translate(32.90,0)"><path d="M47,100 V0 M47,3 L8.5,69.7 H62" vector-effect="non-scaling-stroke"/></g></g></g></svg>
<svg style="left:355.35px;top:611.60px" width="9.8" height="9.0"><g transform="scale(0.0787,0.0700)"><g fill="none" stroke="#666" stroke-width="0.85" stroke-linejoin="miter" stroke-linecap="butt"><g transform="translate(0.00,0)"><path d="M0,4.4 H12.9 V100" vector-effect="non-scaling-stroke"/></g><g transform="translate(32.90,0)"><path d="M63,4.4 H17.6 L12.8,49.5 M12.6,48.6 A28,28 0 1 1 7,76.5" vector-effect="non-scaling-stroke"/></g></g></g></svg>
<svg style="left:413.90px;top:611.60px" width="10.0" height="9.0"><g transform="scale(0.0801,0.0700)"><g fill="none" stroke="#666" stroke-width="0.85" stroke-linejoin="miter" stroke-linecap="butt"><g transform="translate(0.00,0)"><path d="M0,4.4 H12.9 V100" vector-effect="non-scaling-stroke"/></g><g transform="translate(33.90,0)"><circle cx="33" cy="68.6" r="28.6" vector-effect="non-scaling-stroke"/><path d="M8.2,54.3 L39.6,0" vector-effect="non-scaling-stroke"/></g></g></g></svg>
<svg style="left:473.25px;top:611.60px" width="8.6" height="9.0"><g transform="scale(0.0742,0.0700)"><g fill="none" stroke="#666" stroke-width="0.85" stroke-linejoin="miter" stroke-linecap="butt"><g transform="translate(0.00,0)"><path d="M0,4.4 H12.9 V100" vector-effect="non-scaling-stroke"/></g><g transform="translate(31.90,0)"><path d="M0,4.4 H53 L13,100" vector-effect="non-scaling-stroke"/></g></g></g></svg>
<svg style="left:531.40px;top:611.60px" width="9.6" height="9.0"><g transform="scale(0.0783,0.0700)"><g fill="none" stroke="#666" stroke-width="0.85" stroke-linejoin="miter" stroke-linecap="butt"><g transform="translate(0.00,0)"><path d="M0,4.4 H12.9 V100" vector-effect="non-scaling-stroke"/></g><g transform="translate(33.90,0)"><circle cx="31.6" cy="25" r="20.8" vector-effect="non-scaling-stroke"/><circle cx="31.6" cy="71.4" r="27.1" vector-effect="non-scaling-stroke"/></g></g></g></svg>
<div class="panel" style="left:56px;top:643px;width:505px;height:270px"></div>
<div class="ic" style="left:72px;top:661.7px"></div>
<svg style="left:68px;top:658px" width="40" height="40" viewBox="0 0 40 40" fill="none" stroke="#2a2a2a" stroke-width="1.5" stroke-linecap="round" stroke-linejoin="round">
<circle cx="23.2" cy="14.8" r="5.1"/>
<path d="M23.9,12.2 L21.8,14.9 H24.5 L22.4,17.6" stroke-width="1.2"/>
<path d="M11.4,21.7 H14.2 C16.4,21.7 17.8,23.1 20,23.5 C21.6,23.8 21,25.6 19,25.7 C17,25.9 15.6,25.3 14.6,24.5"/>
<path d="M11.4,27.6 L18.6,30 L27.6,25 C28.9,24.2 28.2,22.2 26.4,22.6 L21.6,24.1"/>
</svg>
<div class="t" style="left:111.30px;top:668px;font-size:23.5px;line-height:23.5px;color:#222;letter-spacing:-0.030px;">Besparelser</div>
<div class="ocard" style="left:72px;top:721px;width:309px;height:176px"></div>
<div class="ocard" style="left:389px;top:721px;width:156px;height:84px"></div>
<div class="ocard" style="left:389px;top:813px;width:156px;height:84px"></div>
<div class="t" style="left:87.70px;top:750px;font-size:16px;line-height:16px;color:#3a3a3a;letter-spacing:-0.136px;">Siste sju dager</div>
<div class="a" style="left:325px;top:737px;width:40px;height:40px;border-radius:50%;background:#fafbfd"></div>
<svg style="left:334.2px;top:746.2px" width="22" height="22" viewBox="0 0 22 22" fill="none" stroke="#1a1a1a" stroke-width="1.6" stroke-linecap="round" stroke-linejoin="round"><path d="M0.6,20.4 L20.6,0.9 M9.2,0.8 L19.6,0.8 Q20.8,0.8 20.8,2 L20.8,12.4"/></svg>
<div class="badge" style="left:88px;top:796.5px;width:48px;height:22.4px;background:#d4f9e1"></div>
<svg style="left:92.10px;top:801.85px" width="41.1" height="13.3"><g transform="scale(0.1145,0.1130)"><g fill="none" stroke="#444" stroke-width="1.10" stroke-linejoin="miter" stroke-linecap="butt"><g transform="translate(0.00,0)"><path d="M0,58.5 H70 M35,22 V95" vector-effect="non-scaling-stroke"/></g><g transform="translate(84.80,0)"><circle cx="33" cy="68.6" r="28.6" vector-effect="non-scaling-stroke"/><path d="M8.2,54.3 L39.6,0" vector-effect="non-scaling-stroke"/></g><g transform="translate(185.00,0)"><path d="M63,4.4 H17.6 L12.8,49.5 M12.6,48.6 A28,28 0 1 1 7,76.5" vector-effect="non-scaling-stroke"/></g><g transform="translate(263.50,0)"><circle cx="18.6" cy="24.2" r="13.4" vector-effect="non-scaling-stroke"/><circle cx="60.2" cy="81.4" r="13.4" vector-effect="non-scaling-stroke"/></g></g><g fill="#444" stroke="none"><g transform="translate(162.80,0)"><circle cx="4.6" cy="96.2" r="4.7"/></g><g transform="translate(263.50,0)"><path d="M56.6,0 H66.4 L17.4,100 H7.6 Z"/></g></g></g></svg>
<svg style="left:89.90px;top:835.00px" width="81.3" height="35.8"><g transform="scale(0.3467,0.3380)"><g fill="none" stroke="#141414" stroke-width="2.90" stroke-linejoin="miter" stroke-linecap="butt"><g transform="translate(0.00,0)"><path d="M0,4.4 H12.9 V100" vector-effect="non-scaling-stroke"/></g><g transform="translate(33.90,0)"><circle cx="33" cy="68.6" r="28.6" vector-effect="non-scaling-stroke"/><path d="M8.2,54.3 L39.6,0" vector-effect="non-scaling-stroke"/></g><g transform="translate(113.70,0)"><path d="M0,4.4 H12.9 V100" vector-effect="non-scaling-stroke"/></g><g transform="translate(168.30,0)"><path d="M9.7,22.65 A21.2,21.2 0 1 1 27.1,45.4 M24.5,43 A26.8,26.8 0 1 1 4.4,78.6" vector-effect="non-scaling-stroke"/></g></g><g fill="#141414" stroke="none"><g transform="translate(147.60,0)"><circle cx="4.6" cy="96.2" r="4.7"/></g></g></g></svg>
<div class="t" style="left:174.80px;top:856px;font-size:15.5px;line-height:15.5px;color:#484848;letter-spacing:0.100px;">kr</div>
<div class="t" style="left:404.35px;top:741px;font-size:16px;line-height:16px;color:#3a3a3a;letter-spacing:0.387px;">I dag</div>
<div class="badge" style="left:480.6px;top:738px;width:48px;height:22.4px;background:#d4f9e1"></div>
<svg style="left:484.70px;top:743.35px" width="41.1" height="13.3"><g transform="scale(0.1145,0.1130)"><g fill="none" stroke="#444" stroke-width="1.10" stroke-linejoin="miter" stroke-linecap="butt"><g transform="translate(0.00,0)"><path d="M0,58.5 H70 M35,22 V95" vector-effect="non-scaling-stroke"/></g><g transform="translate(84.80,0)"><circle cx="33" cy="68.6" r="28.6" vector-effect="non-scaling-stroke"/><path d="M8.2,54.3 L39.6,0" vector-effect="non-scaling-stroke"/></g><g transform="translate(185.00,0)"><path d="M63,4.4 H17.6 L12.8,49.5 M12.6,48.6 A28,28 0 1 1 7,76.5" vector-effect="non-scaling-stroke"/></g><g transform="translate(263.50,0)"><circle cx="18.6" cy="24.2" r="13.4" vector-effect="non-scaling-stroke"/><circle cx="60.2" cy="81.4" r="13.4" vector-effect="non-scaling-stroke"/></g></g><g fill="#444" stroke="none"><g transform="translate(162.80,0)"><circle cx="4.6" cy="96.2" r="4.7"/></g><g transform="translate(263.50,0)"><path d="M56.6,0 H66.4 L17.4,100 H7.6 Z"/></g></g></g></svg>
<svg style="left:405.80px;top:766.60px" width="29.9" height="18.4"><g transform="scale(0.1851,0.1640)"><g fill="none" stroke="#151515" stroke-width="1.70" stroke-linejoin="miter" stroke-linecap="butt"><g transform="translate(0.00,0)"><path d="M0,4.4 H12.9 V100" vector-effect="non-scaling-stroke"/></g><g transform="translate(35.70,0)"><path d="M0,4.4 H12.9 V100" vector-effect="non-scaling-stroke"/></g><g transform="translate(90.30,0)"><path d="M9.7,22.65 A21.2,21.2 0 1 1 27.1,45.4 M24.5,43 A26.8,26.8 0 1 1 4.4,78.6" vector-effect="non-scaling-stroke"/></g></g><g fill="#151515" stroke="none"><g transform="translate(69.60,0)"><circle cx="4.6" cy="96.2" r="4.7"/></g></g></g></svg>
<div class="t" style="left:438.40px;top:770px;font-size:15.5px;line-height:15.5px;color:#484848;letter-spacing:0.500px;">kr</div>
<div class="t" style="left:404.35px;top:833px;font-size:16px;line-height:16px;color:#3a3a3a;letter-spacing:0.917px;">I år</div>
<div class="badge" style="left:480.6px;top:829.6px;width:48px;height:22.4px;background:#dcd9e7"></div>
<svg style="left:484.70px;top:834.95px" width="41.1" height="13.3"><g transform="scale(0.1145,0.1130)"><g fill="none" stroke="#4a4750" stroke-width="1.10" stroke-linejoin="miter" stroke-linecap="butt"><g transform="translate(0.00,0)"><path d="M0,58.5 H70 M35,22 V95" vector-effect="non-scaling-stroke"/></g><g transform="translate(84.80,0)"><circle cx="33" cy="68.6" r="28.6" vector-effect="non-scaling-stroke"/><path d="M8.2,54.3 L39.6,0" vector-effect="non-scaling-stroke"/></g><g transform="translate(185.00,0)"><path d="M63,4.4 H17.6 L12.8,49.5 M12.6,48.6 A28,28 0 1 1 7,76.5" vector-effect="non-scaling-stroke"/></g><g transform="translate(263.50,0)"><circle cx="18.6" cy="24.2" r="13.4" vector-effect="non-scaling-stroke"/><circle cx="60.2" cy="81.4" r="13.4" vector-effect="non-scaling-stroke"/></g></g><g fill="#4a4750" stroke="none"><g transform="translate(162.80,0)"><circle cx="4.6" cy="96.2" r="4.7"/></g><g transform="translate(263.50,0)"><path d="M56.6,0 H66.4 L17.4,100 H7.6 Z"/></g></g></g></svg>
<svg style="left:405.80px;top:858.40px" width="56.2" height="18.4"><g transform="scale(0.1780,0.1640)"><g fill="none" stroke="#151515" stroke-width="1.70" stroke-linejoin="miter" stroke-linecap="butt"><g transform="translate(0.00,0)"><path d="M4.4,29 A26.6,26.6 0 1 1 49.9,48.4 L4.4,95.6 H63" vector-effect="non-scaling-stroke"/></g><g transform="translate(75.80,0)"><path d="M0,4.4 H12.9 V100" vector-effect="non-scaling-stroke"/></g><g transform="translate(109.70,0)"><circle cx="33" cy="31.4" r="28.6" vector-effect="non-scaling-stroke"/><path d="M57.8,45.7 L26.4,100" vector-effect="non-scaling-stroke"/></g><g transform="translate(189.50,0)"><path d="M0,4.4 H12.9 V100" vector-effect="non-scaling-stroke"/></g><g transform="translate(244.10,0)"><path d="M9.7,22.65 A21.2,21.2 0 1 1 27.1,45.4 M24.5,43 A26.8,26.8 0 1 1 4.4,78.6" vector-effect="non-scaling-stroke"/></g></g><g fill="#151515" stroke="none"><g transform="translate(223.40,0)"><circle cx="4.6" cy="96.2" r="4.7"/></g></g></g></svg>
<div class="t" style="left:464.80px;top:862px;font-size:15.5px;line-height:15.5px;color:#484848;letter-spacing:0.500px;">kr</div>
<div class="panel" style="left:569px;top:285px;width:815px;height:628px"></div>
<div class="ic" style="left:585px;top:304px"></div>
<svg style="left:585px;top:304px" width="32" height="32" viewBox="0 0 32 32" fill="none" stroke="#222" stroke-width="1.5">
<rect x="6.4" y="6.2" width="19.4" height="19.6" rx="5"/><circle cx="16.1" cy="16" r="5.4"/>
<circle cx="14" cy="16" r="0.8" fill="#222" stroke="none"/><circle cx="18.2" cy="16" r="0.8" fill="#222" stroke="none"/></svg>
<div class="t" style="left:624.30px;top:309px;font-size:23.5px;line-height:23.5px;color:#222;letter-spacing:-0.217px;">Forbruk</div>
<div class="t" style="left:585.05px;top:351px;font-size:15.5px;line-height:15.5px;color:#202020;letter-spacing:0.137px;">Ditt totale forbruk siden 25. Oktober er 11945 kWh. Dette</div>
<div class="t" style="left:585.60px;top:370px;font-size:15.5px;line-height:15.5px;color:#202020;letter-spacing:0.078px;">tilsvarer 1021.3 kWh om dagen. Den gjennomsnittlige kostnaden</div>
<div class="t" style="left:585.60px;top:389px;font-size:15.5px;line-height:15.5px;color:#202020;letter-spacing:0.276px;">for forbruket ditt har vært 239,1 kr om dagen.</div>
<svg style="left:0;top:0" width="1440" height="1024" viewBox="0 0 1440 1024" fill="none" stroke="#77787c" stroke-width="1">
<path d="M952.2,594 C952.2,556 975,535 1026,535"/>
<path d="M915.5,621.8 H716 C680,621.8 657,645 657,680.5"/>
<path d="M988.5,621.8 H1190 C1226,621.8 1247.5,645 1247.5,680.5"/>
<path d="M952.2,648.5 V683"/>
</svg>
<div class="a" style="left:932.3px;top:602px;width:40px;height:40px;border-radius:9px;background:#fff;border:1px solid #5a5a5a;box-shadow:0 1px 2px rgba(0,0,0,0.08)"></div>
<svg style="left:932.3px;top:602px" width="40" height="40" viewBox="0 0 40 40" fill="none" stroke="#1c1f1c" stroke-width="1.6" stroke-linecap="round">
<defs><filter id="hb" x="-50%" y="-150%" width="200%" height="400%"><feGaussianBlur stdDeviation="1.3"/></filter></defs><ellipse cx="20" cy="31.3" rx="9.5" ry="3" fill="#d9dce6" stroke="none" filter="url(#hb)"/>
<rect x="12.2" y="9.8" width="15.8" height="20.2" rx="4.6" fill="#fff"/><path d="M12.2,22.5 H28" stroke-linecap="butt"/>
<path d="M15.8,13.9 H18.4 M15.8,16.9 H18.4" stroke-width="1.3" stroke-linecap="butt"/><circle cx="24.1" cy="26" r="0.7" fill="#1c1f1c" stroke="none"/></svg>
<div class="a" style="left:1043px;top:409px;width:299px;height:200px;border-radius:24px;background:#565759"></div>
<div class="ic" style="left:1059px;top:427.8px;border-color:rgba(255,255,255,0.72)"></div>
<svg style="left:0;top:0" width="1440" height="1024" viewBox="0 0 1440 1024"><path d="M1075.00,435.32 L1084.45,441.75 L1082.25,443.55 L1081.45,450.20 Q1081.20,452.15 1079.30,452.15 L1070.70,452.15 Q1068.80,452.15 1068.55,450.20 L1067.75,443.55 L1065.55,441.75 Z" fill="none" stroke="#fff" stroke-width="1.5" stroke-linejoin="round"/></svg>
<div class="t" style="left:1098.50px;top:437px;font-size:16px;line-height:16px;color:#fff;letter-spacing:0.167px;">Home</div>
<svg style="left:1059.60px;top:512.20px" width="44.2" height="18.4"><g transform="scale(0.1701,0.1640)"><g fill="none" stroke="#fff" stroke-width="1.45" stroke-linejoin="miter" stroke-linecap="butt"><g transform="translate(0.00,0)"><ellipse cx="38.5" cy="50.5" rx="34.1" ry="47.3" vector-effect="non-scaling-stroke"/></g><g transform="translate(109.70,0)"><path d="M9.7,22.65 A21.2,21.2 0 1 1 27.1,45.4 M24.5,43 A26.8,26.8 0 1 1 4.4,78.6" vector-effect="non-scaling-stroke"/></g><g transform="translate(182.10,0)"><circle cx="33" cy="68.6" r="28.6" vector-effect="non-scaling-stroke"/><path d="M8.2,54.3 L39.6,0" vector-effect="non-scaling-stroke"/></g></g><g fill="#fff" stroke="none"><g transform="translate(89.00,0)"><circle cx="4.6" cy="96.2" r="4.7"/></g></g></g></svg>
<div class="t" style="left:1107.15px;top:516px;font-size:16px;line-height:16px;color:#f0f0f0;letter-spacing:0.170px;">kr/kWh</div>
<svg style="left:1060.90px;top:547.30px" width="82.2" height="35.7"><g transform="scale(0.3490,0.3370)"><g fill="none" stroke="#fff" stroke-width="2.80" stroke-linejoin="miter" stroke-linecap="butt"><g transform="translate(0.00,0)"><path d="M0,4.4 H12.9 V100" vector-effect="non-scaling-stroke"/></g><g transform="translate(32.90,0)"><path d="M47,100 V0 M47,3 L8.5,69.7 H62" vector-effect="non-scaling-stroke"/></g><g transform="translate(109.70,0)"><path d="M0,4.4 H12.9 V100" vector-effect="non-scaling-stroke"/></g><g transform="translate(166.80,0)"><path d="M4.4,29 A26.6,26.6 0 1 1 49.9,48.4 L4.4,95.6 H63" vector-effect="non-scaling-stroke"/></g></g><g fill="#fff" stroke="none"><g transform="translate(143.60,0)"><circle cx="4.6" cy="96.2" r="4.7"/></g></g></g></svg>
<div class="t" style="left:1147.15px;top:568px;font-size:16px;line-height:16px;color:#f0f0f0;letter-spacing:-0.325px;">kWh</div>
<svg style="left:0;top:0" width="1440" height="1024" viewBox="0 0 1440 1024" fill="none">
<defs><linearGradient id="gh" x1="0" y1="533" x2="0" y2="592" gradientUnits="userSpaceOnUse"><stop offset="0" stop-color="#f4f4ff" stop-opacity="0.23"/><stop offset="0.45" stop-color="#fff" stop-opacity="0.15"/><stop offset="1" stop-color="#fff" stop-opacity="0"/></linearGradient></defs>
<path d="M1217.2,584.8 C1219.2,583.9 1225.1,581.3 1229.2,579.3 C1233.3,577.2 1238.2,574.9 1241.7,572.5 C1245.2,570.1 1247.2,567.8 1250.0,565.2 C1252.8,562.6 1255.7,559.3 1258.3,556.9 C1260.9,554.5 1263.2,552.7 1265.6,550.8 C1268.0,548.9 1270.4,547.1 1272.9,545.4 C1275.4,543.7 1278.1,542.0 1280.7,540.4 C1283.3,538.8 1285.6,537.1 1288.5,536.0 C1291.4,534.9 1294.6,533.6 1297.9,533.8 C1301.2,533.9 1305.0,535.2 1308.3,537.1 C1311.6,539.0 1314.8,542.5 1317.7,545.4 C1320.7,548.3 1324.6,553.2 1326.0,554.8 L1326,592 L1217.2,592 Z" fill="url(#gh)"/><path d="M1217.2,584.8 C1219.2,583.9 1225.1,581.3 1229.2,579.3 C1233.3,577.2 1238.2,574.9 1241.7,572.5 C1245.2,570.1 1247.2,567.8 1250.0,565.2 C1252.8,562.6 1255.7,559.3 1258.3,556.9 C1260.9,554.5 1263.2,552.7 1265.6,550.8 C1268.0,548.9 1270.4,547.1 1272.9,545.4 C1275.4,543.7 1278.1,542.0 1280.7,540.4 C1283.3,538.8 1285.6,537.1 1288.5,536.0 C1291.4,534.9 1294.6,533.6 1297.9,533.8 C1301.2,533.9 1305.0,535.2 1308.3,537.1 C1311.6,539.0 1314.8,542.5 1317.7,545.4 C1320.7,548.3 1324.6,553.2 1326.0,554.8" stroke="#f2f2f4" stroke-width="1.4"/></svg>
<div class="ocard" style="left:585px;top:697px;width:255.6px;height:200px"></div>
<div class="ocard" style="left:848.8px;top:697px;width:255.6px;height:200px"></div>
<div class="ocard" style="left:1112px;top:697px;width:255.6px;height:200px"></div>
<div class="ic" style="left:601px;top:717px"></div>
<svg style="left:592px;top:708px" width="50" height="50" viewBox="0 0 50 50" fill="none" stroke="#2a2a2a" stroke-width="1.7" stroke-linecap="round" stroke-linejoin="round">
<rect x="15.2" y="18.7" width="16.8" height="12.6" rx="3.4"/><path d="M32.6,22.2 C36.6,22.2 36.6,27.8 32.6,27.8" stroke-width="1.5"/>
<path d="M19.2,22.4 V27.4 M22,22.4 V27.4 M25,22.4 V27.4 M28.1,22.4 V27.4" stroke-width="1.5" stroke-linecap="butt"/></svg>
<div class="t" style="left:640.50px;top:726px;font-size:16px;line-height:16px;color:#2e2e2e;letter-spacing:0.300px;">Battery</div>
<div class="a" style="left:785px;top:713px;width:40px;height:40px;border-radius:50%;background:#fafbfd"></div>
<svg style="left:794.2px;top:722px" width="22" height="22" viewBox="0 0 22 22" fill="none" stroke="#1a1a1a" stroke-width="1.6" stroke-linecap="round" stroke-linejoin="round"><path d="M0.6,20.4 L20.6,0.9 M9.2,0.8 L19.6,0.8 Q20.8,0.8 20.8,2 L20.8,12.4"/></svg>
<svg style="left:601.10px;top:792.20px" width="43.0" height="18.1"><g transform="scale(0.1756,0.1610)"><g fill="none" stroke="#151515" stroke-width="1.60" stroke-linejoin="miter" stroke-linecap="butt"><g transform="translate(0.00,0)"><circle cx="33" cy="68.6" r="28.6" vector-effect="non-scaling-stroke"/><path d="M8.2,54.3 L39.6,0" vector-effect="non-scaling-stroke"/></g><g transform="translate(77.00,0)"><path d="M63,4.4 H17.6 L12.8,49.5 M12.6,48.6 A28,28 0 1 1 7,76.5" vector-effect="non-scaling-stroke"/></g><g transform="translate(155.50,0)"><circle cx="18.6" cy="24.2" r="13.4" vector-effect="non-scaling-stroke"/><circle cx="60.2" cy="81.4" r="13.4" vector-effect="non-scaling-stroke"/></g></g><g fill="#151515" stroke="none"><g transform="translate(155.50,0)"><path d="M56.6,0 H66.4 L17.4,100 H7.6 Z"/></g></g></g></svg>
<div class="badge" style="left:652.1px;top:788px;width:95px;height:24.8px;background:#d6fbe3"></div>
<svg style="left:657.2px;top:795.2px" width="16.900000000000002" height="11.700000000000001" viewBox="0 0 13 9" fill="none" stroke="#484848" stroke-width="1.25" stroke-linecap="round" stroke-linejoin="round"><path d="M3.2,0.8 H2.6 Q0.8,0.8 0.8,2.6 V6.2 Q0.8,8 2.6,8 H3.2 M8,0.8 H8.6 Q10.4,0.8 10.4,2.6 V6.2 Q10.4,8 8.6,8 H8 M12.2,3.4 V5.4 M6.3,0.9 L4.4,4.5 H6.8 L4.9,8"/></svg>
<div class="t" style="left:682.90px;top:793px;font-size:14px;line-height:14px;color:#4a4a4a;letter-spacing:0.221px;">Charging</div>
<svg style="left:603.00px;top:835.00px" width="84.9" height="35.8"><g transform="scale(0.3386,0.3380)"><g fill="none" stroke="#141414" stroke-width="2.90" stroke-linejoin="miter" stroke-linecap="butt"><g transform="translate(0.00,0)"><path d="M0,4.4 H12.9 V100" vector-effect="non-scaling-stroke"/></g><g transform="translate(33.90,0)"><ellipse cx="38.5" cy="50.5" rx="34.1" ry="47.3" vector-effect="non-scaling-stroke"/></g><g transform="translate(124.70,0)"><path d="M0,4.4 H12.9 V100" vector-effect="non-scaling-stroke"/></g><g transform="translate(181.80,0)"><path d="M4.4,29 A26.6,26.6 0 1 1 49.9,48.4 L4.4,95.6 H63" vector-effect="non-scaling-stroke"/></g></g><g fill="#141414" stroke="none"><g transform="translate(158.60,0)"><circle cx="4.6" cy="96.2" r="4.7"/></g></g></g></svg>
<div class="t" style="left:692.15px;top:856px;font-size:16px;line-height:16px;color:#484848;letter-spacing:-0.075px;">kWh</div>
<div class="ic" style="left:864.8px;top:717px"></div>
<svg style="left:856px;top:708px" width="50" height="50" viewBox="0 0 50 50" fill="none" stroke="#1e1e1e" stroke-width="1.5" stroke-linecap="butt" stroke-linejoin="round">
<path d="M15.3,33.9 H33.8" stroke-width="1.8"/><path d="M22.3,15.8 H27.1 M22.3,15.6 L18.2,33.6 M27.1,15.6 L31.2,33.6"/>
<path d="M22.3,15.8 L16.6,20.3 H32.8 L27.1,15.8 M16.7,20.3 V22.6 M32.7,20.3 V22.6" stroke-width="1.4"/>
<path d="M21.3,20.5 L29.6,27 M28.1,20.5 L19.8,27 M19.8,27 L30.9,33.2 M29.6,27 L18.5,33.2" stroke-width="1.3"/></svg>
<div class="t" style="left:904.40px;top:726px;font-size:16px;line-height:16px;color:#2e2e2e;letter-spacing:0.450px;">Grid</div>
<div class="a" style="left:1048.8px;top:713px;width:40px;height:40px;border-radius:50%;background:#fafbfd"></div>
<svg style="left:1058px;top:722px" width="22" height="22" viewBox="0 0 22 22" fill="none" stroke="#1a1a1a" stroke-width="1.6" stroke-linecap="round" stroke-linejoin="round"><path d="M0.6,20.4 L20.6,0.9 M9.2,0.8 L19.6,0.8 Q20.8,0.8 20.8,2 L20.8,12.4"/></svg>
<div class="badge" style="left:864.9px;top:790px;width:84.8px;height:24.8px;background:#d6fbe3"></div>
<div class="a" style="left:870.4px;top:797.5px;width:10.5px;height:10.5px;border-radius:50%;background:#383e3a"></div>
<div class="t" style="left:890.00px;top:795px;font-size:14px;line-height:14px;color:#444;letter-spacing:0.475px;">Drawing</div>
<svg style="left:865.90px;top:835.00px" width="84.3" height="35.8"><g transform="scale(0.3409,0.3380)"><g fill="none" stroke="#141414" stroke-width="2.90" stroke-linejoin="miter" stroke-linecap="butt"><g transform="translate(0.00,0)"><circle cx="33" cy="31.4" r="28.6" vector-effect="non-scaling-stroke"/><path d="M57.8,45.7 L26.4,100" vector-effect="non-scaling-stroke"/></g><g transform="translate(77.00,0)"><path d="M63,4.4 H17.6 L12.8,49.5 M12.6,48.6 A28,28 0 1 1 7,76.5" vector-effect="non-scaling-stroke"/></g><g transform="translate(178.40,0)"><path d="M4.4,29 A26.6,26.6 0 1 1 49.9,48.4 L4.4,95.6 H63" vector-effect="non-scaling-stroke"/></g></g><g fill="#141414" stroke="none"><g transform="translate(155.20,0)"><circle cx="4.6" cy="96.2" r="4.7"/></g></g></g></svg>
<div class="t" style="left:954.75px;top:856px;font-size:16px;line-height:16px;color:#484848;letter-spacing:-0.075px;">kWh</div>
<div class="ic" style="left:1128.4px;top:717px"></div>
<svg style="left:1120px;top:708px" width="50" height="50" viewBox="0 0 50 50" fill="none" stroke="#262626" stroke-width="1.6" stroke-linecap="round" stroke-linejoin="round">
<path d="M19.6,24.8 H29.3 Q30.4,24.8 30.7,25.9 L33.2,33.2 Q33.6,34.6 32.2,34.6 H16.7 Q15.3,34.6 15.7,33.2 L18.2,25.9 Q18.5,24.8 19.6,24.8 Z"/>
<path d="M24.45,24.8 V34.6 M17,30 H32" stroke-width="1.4"/>
<path d="M21.4,22.2 A3.05,3.05 0 0 1 27.5,22.2" stroke-width="1.4"/>
<path d="M24.45,14.5 V16.3 M19.3,16.8 L20.3,17.8 M29.6,16.8 L28.6,17.8 M17,21.9 H18.3 M30.6,21.9 H31.9" stroke-width="1.4"/></svg>
<div class="t" style="left:1167.70px;top:726px;font-size:16px;line-height:16px;color:#2e2e2e;letter-spacing:-2.550px;">PV</div>
<div class="a" style="left:1312.2px;top:713px;width:40px;height:40px;border-radius:50%;background:#fafbfd"></div>
<svg style="left:1321.5px;top:722px" width="22" height="22" viewBox="0 0 22 22" fill="none" stroke="#1a1a1a" stroke-width="1.6" stroke-linecap="round" stroke-linejoin="round"><path d="M0.6,20.4 L20.6,0.9 M9.2,0.8 L19.6,0.8 Q20.8,0.8 20.8,2 L20.8,12.4"/></svg>
<svg style="left:1129.20px;top:835.00px" width="82.8" height="35.8"><g transform="scale(0.3512,0.3380)"><g fill="none" stroke="#141414" stroke-width="2.90" stroke-linejoin="miter" stroke-linecap="butt"><g transform="translate(0.00,0)"><path d="M4.4,29 A26.6,26.6 0 1 1 49.9,48.4 L4.4,95.6 H63" vector-effect="non-scaling-stroke"/></g><g transform="translate(71.50,0)"><path d="M9.7,22.65 A21.2,21.2 0 1 1 27.1,45.4 M24.5,43 A26.8,26.8 0 1 1 4.4,78.6" vector-effect="non-scaling-stroke"/></g><g transform="translate(167.10,0)"><path d="M4.4,29 A26.6,26.6 0 1 1 49.9,48.4 L4.4,95.6 H63" vector-effect="non-scaling-stroke"/></g></g><g fill="#141414" stroke="none"><g transform="translate(143.90,0)"><circle cx="4.6" cy="96.2" r="4.7"/></g></g></g></svg>
<div class="t" style="left:1216.75px;top:856px;font-size:16px;line-height:16px;color:#484848;letter-spacing:-0.375px;">kWh</div>
</div></body></html>
